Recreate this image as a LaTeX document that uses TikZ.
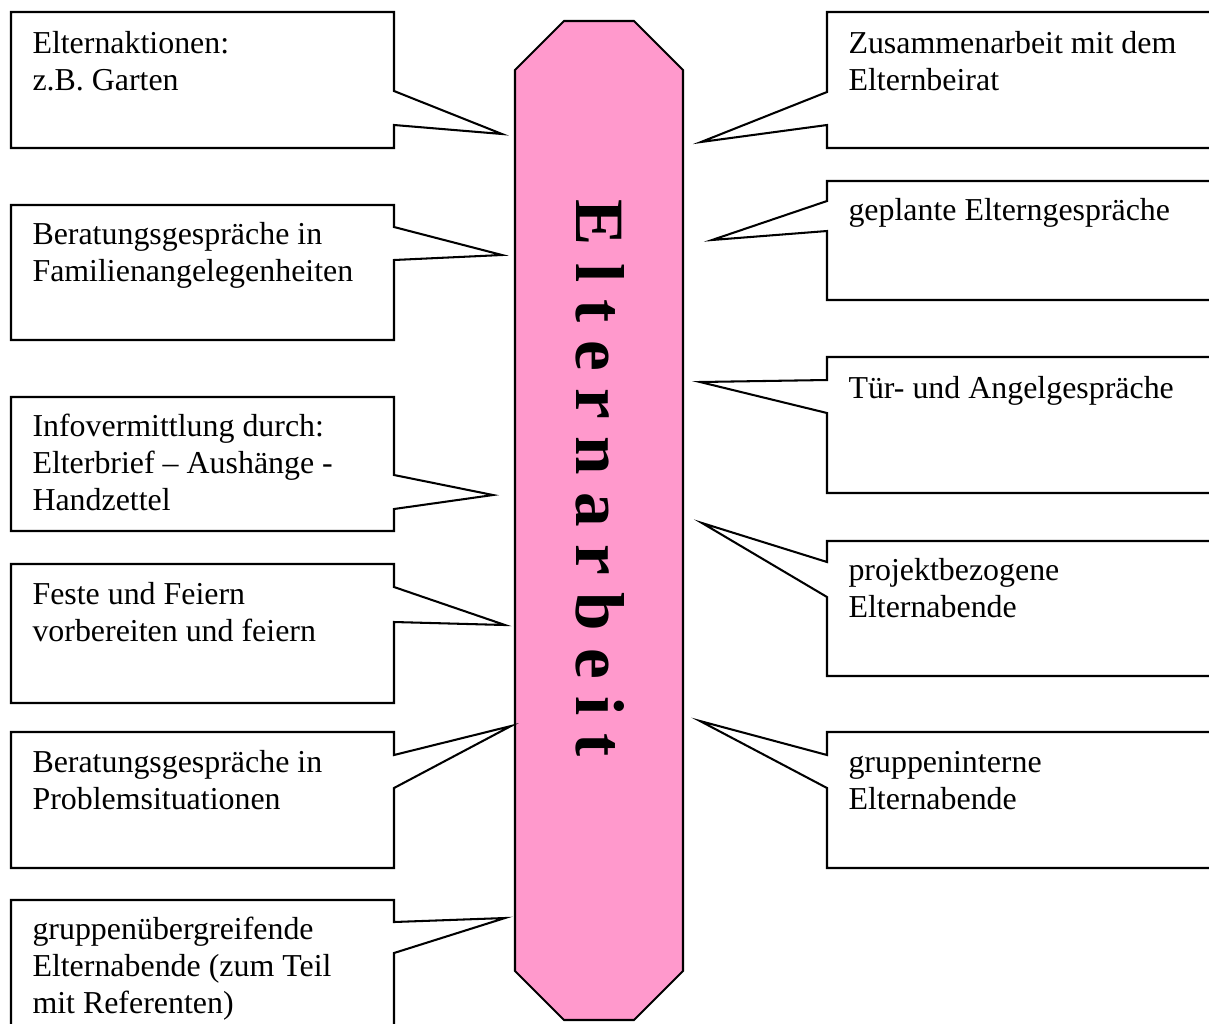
\documentclass[tikz,border=0pt]{standalone}
\usepackage{fontspec}
\setmainfont{Liberation Serif}
\definecolor{pinkfill}{RGB}{255,153,204}
\begin{document}
\begin{tikzpicture}[x=0.39024pt,y=-0.39024pt,
  callout/.style={draw=black,fill=white,line width=0.8pt,line join=miter},
  centershape/.style={draw=black,fill=pinkfill,line width=0.8pt},
  lbl/.style={anchor=base west,align=left,inner sep=0pt,font=\fontsize{12.45pt}{14.25pt}\selectfont},
  bigtxt/.style={rotate=-90,inner sep=0pt,font=\bfseries\fontsize{27pt}{30pt}\selectfont}]
\useasboundingbox (0,0) rectangle (1209,1023);
\clip (0,0) rectangle (1209,1023);
% central shape
\draw[centershape] (564,21) -- (634,21) -- (683,70) -- (683,971) -- (634,1020) -- (564,1020) -- (515,971) -- (515,70) -- cycle;
\node[bigtxt] (center) at (600,478) {\spaceskip=6.8pt E l t e r n a r b e i t};
% left callouts
\draw[callout] (11,12) -- (394,12) -- (394,91) -- (502,134) -- (394,125) -- (394,148) -- (11,148) -- cycle;
\draw[callout] (11,205) -- (394,205) -- (394,227) -- (502,255) -- (394,260) -- (394,340) -- (11,340) -- cycle;
\draw[callout] (11,397) -- (394,397) -- (394,475) -- (493,495) -- (394,509) -- (394,531) -- (11,531) -- cycle;
\draw[callout] (11,564) -- (394,564) -- (394,587) -- (505,625) -- (394,622) -- (394,703) -- (11,703) -- cycle;
\draw[callout] (11,732) -- (394,732) -- (394,755) -- (511,726) -- (394,788) -- (394,868) -- (11,868) -- cycle;
\draw[callout] (11,900) -- (394,900) -- (394,922) -- (505,918) -- (394,953) -- (394,1040) -- (11,1040) -- cycle;
% right callouts
\draw[callout] (1230,12) -- (827,12) -- (827,92) -- (701,142) -- (827,125) -- (827,148) -- (1230,148) -- cycle;
\draw[callout] (1230,181) -- (827,181) -- (827,201) -- (712,240) -- (827,231) -- (827,300) -- (1230,300) -- cycle;
\draw[callout] (1230,357) -- (827,357) -- (827,380) -- (700,382) -- (827,413) -- (827,493) -- (1230,493) -- cycle;
\draw[callout] (1230,541) -- (827,541) -- (827,562) -- (702,523) -- (827,597) -- (827,676) -- (1230,676) -- cycle;
\draw[callout] (1230,732) -- (827,732) -- (827,755) -- (700,721) -- (827,788) -- (827,868) -- (1230,868) -- cycle;
% left texts (anchored at the baseline of the last line)
\node[lbl] (l1) at (32,90) {Elternaktionen:\\z.B. Garten};
\node[lbl] (l2) at (32,281) {Beratungsgespräche in\\Familienangelegenheiten};
\node[lbl] (l3) at (32,510) {Infovermittlung durch:\\Elterbrief – Aushänge -\\Handzettel};
\node[lbl] (l4) at (32,641) {Feste und Feiern\\vorbereiten und feiern};
\node[lbl] (l5) at (32,809) {Beratungsgespräche in\\Problemsituationen};
\node[lbl] (l6) at (32,1013) {gruppenübergreifende\\Elternabende (zum Teil\\mit Referenten)};
% right texts
\node[lbl] (r1) at (848,90) {Zusammenarbeit mit dem\\Elternbeirat};
\node[lbl] (r2) at (848,220) {geplante Elterngespräche};
\node[lbl] (r3) at (848,398) {Tür- und Angelgespräche};
\node[lbl] (r4) at (848,617) {projektbezogene\\Elternabende};
\node[lbl] (r5) at (848,809) {gruppeninterne\\Elternabende};
\end{tikzpicture}
\end{document}
